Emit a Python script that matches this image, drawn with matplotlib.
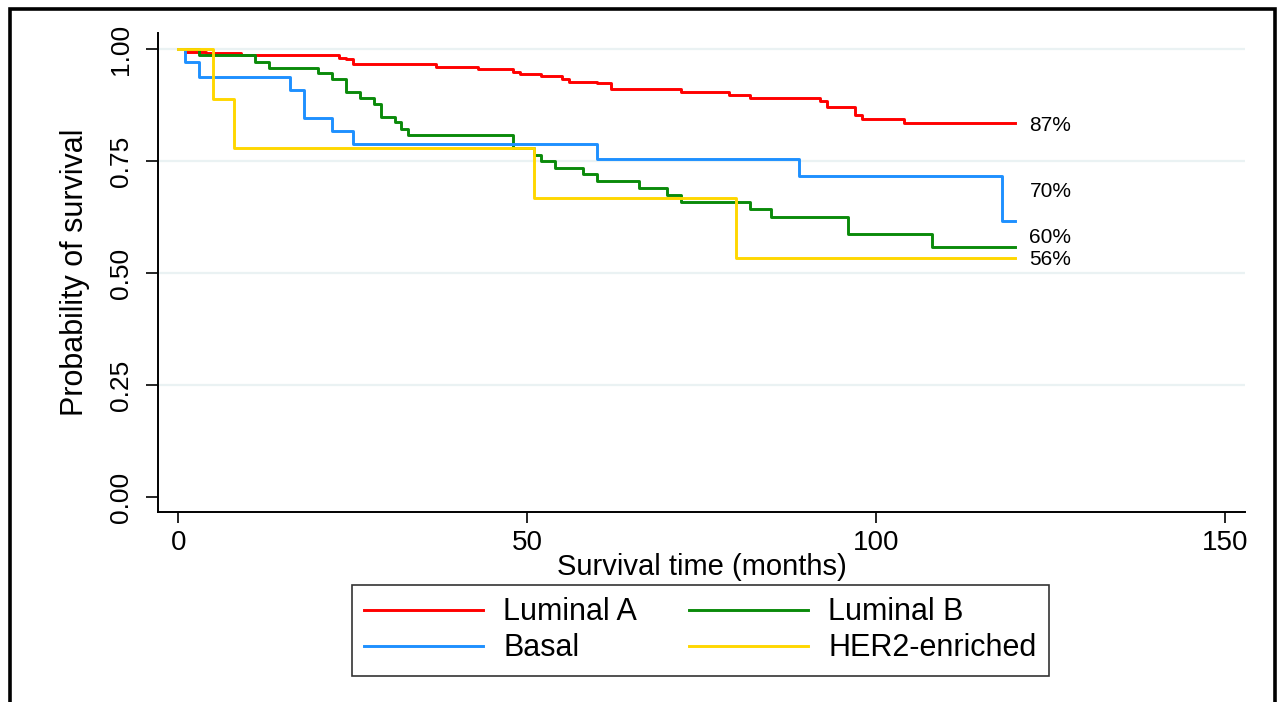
import matplotlib
matplotlib.use("Agg")
from matplotlib import pyplot as plt
from matplotlib.patches import Rectangle

# Kaplan-Meier steps: (month, survival)
lumA_t = [0, 1, 4, 9, 23, 24, 25, 37, 43, 48, 49, 52, 55, 56, 60, 62, 72, 79, 82, 92, 93, 97, 98, 104, 120]
lumA_s = [1.0, 0.994, 0.990, 0.986, 0.981, 0.977, 0.967, 0.960, 0.955, 0.949, 0.945, 0.940, 0.934, 0.927,
          0.923, 0.910, 0.904, 0.897, 0.891, 0.885, 0.870, 0.853, 0.844, 0.834, 0.834]

lumB_t = [0, 3, 11, 13, 20, 22, 24, 26, 28, 29, 31, 32, 33, 48, 51, 52, 54, 58, 60, 66, 70, 72, 82, 85,
          96, 108, 120]
lumB_s = [1.0, 0.987, 0.972, 0.958, 0.946, 0.932, 0.905, 0.890, 0.877, 0.849, 0.836, 0.821, 0.808, 0.779,
          0.763, 0.750, 0.734, 0.720, 0.705, 0.690, 0.674, 0.659, 0.643, 0.625, 0.586, 0.559, 0.559]

basal_t = [0, 1, 3, 16, 18, 22, 25, 60, 89, 118, 120]
basal_s = [1.0, 0.970, 0.938, 0.908, 0.847, 0.818, 0.787, 0.755, 0.717, 0.615, 0.615]

her2_t = [0, 5, 8, 51, 80, 120]
her2_s = [1.0, 0.888, 0.778, 0.667, 0.533, 0.533]

groups = ["Luminal A", "Basal", "Luminal B", "HER2-enriched"]
end_labels = ["87%", "70%", "60%", "56%"]
end_label_y = [0.830, 0.681, 0.580, 0.531]

colors = {"Luminal A": "#ff0000", "Luminal B": "#0a8a0a", "Basal": "#1e90ff", "HER2-enriched": "#ffd700"}
curves = {"Luminal A": (lumA_t, lumA_s), "Luminal B": (lumB_t, lumB_s),
          "Basal": (basal_t, basal_s), "HER2-enriched": (her2_t, her2_s)}

SANS = ["Liberation Sans", "DejaVu Sans"]
NARROW = ["Liberation Sans Narrow", "Liberation Sans", "DejaVu Sans"]


def main():
    plt.rcParams["font.family"] = SANS
    fig = plt.figure(figsize=(12.85, 7.02), dpi=100)
    ax = fig.add_axes([158 / 1285, 1 - 512 / 702, (1245 - 158) / 1285, (512 - 33) / 702])

    for yv in [0.25, 0.5, 0.75, 1.0]:
        ax.axhline(yv, color="#eaf2f3", lw=1.6, zorder=0)

    lines = {}
    for name in ["Luminal A", "Luminal B", "Basal", "HER2-enriched"]:
        t, s = curves[name]
        lines[name], = ax.step(t, s, where="post", color=colors[name], lw=2.1, label=name)

    for lab, yv in zip(end_labels, end_label_y):
        ax.text(122, yv, lab, fontsize=15, va="center", ha="left")

    ax.set_xlim(-2.9, 152.9)
    ax.set_ylim(-0.0335, 1.0357)
    ax.set_xticks([0, 50, 100, 150])
    ax.set_yticks([0, 0.25, 0.5, 0.75, 1.0])
    ax.set_yticklabels(["0.00", "0.25", "0.50", "0.75", "1.00"], rotation=90, va="center",
                       family=NARROW, fontsize=19)
    ax.tick_params(axis="x", length=8, width=1.2, pad=5, labelsize=20)
    ax.tick_params(axis="y", length=9, width=1.2, pad=9)
    for side in ["top", "right"]:
        ax.spines[side].set_visible(False)
    for side in ["left", "bottom"]:
        ax.spines[side].set_linewidth(1.4)

    ax.set_xlabel("Survival time (months)", fontsize=21, labelpad=-2)
    ax.set_ylabel("Probability of survival", fontsize=22, family=NARROW, labelpad=14)

    order = ["Luminal A", "Basal", "Luminal B", "HER2-enriched"]
    leg = fig.legend([lines[n] for n in order], order, loc="center", bbox_to_anchor=(0.545, 0.102),
                     ncol=2, fontsize=22, handlelength=3.9, handletextpad=0.65, columnspacing=1.7,
                     labelspacing=0.2, frameon=True, fancybox=False, borderpad=0.4)
    leg.get_frame().set_edgecolor("black")
    leg.get_frame().set_linewidth(1.2)

    frame = Rectangle((10 / 1285, -0.05), 1265 / 1285, 1.05 - 9 / 702, transform=fig.transFigure,
                      fill=False, edgecolor="black", lw=2.6, clip_on=False)
    fig.patches.append(frame)

    fig.savefig("out.png", dpi=100)


if __name__ == "__main__":
    main()
